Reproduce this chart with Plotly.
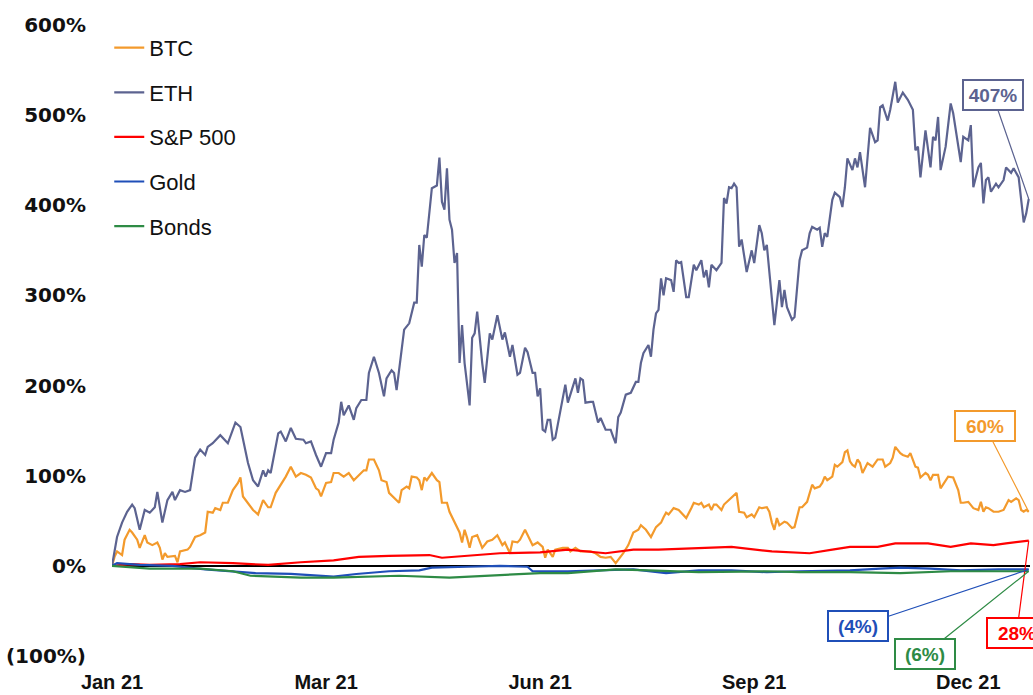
import pandas as pd
import plotly.graph_objects as go

BASE = pd.Timestamp("2021-01-01")

# ---- data: day offset from 1 Jan 2021, cumulative return in % ----
eth_day = [0, 2, 4, 6, 8, 9, 11, 13, 15, 17, 18, 20, 22, 24, 25, 27, 29, 31, 33, 35, 37, 38, 40, 43, 46, 49, 51, 54, 56, 58, 60, 61, 62, 63, 66, 67, 69, 71, 73, 76, 77, 79, 81, 83, 85, 87, 88, 90, 91, 92, 94, 96, 97, 99, 101, 102, 104, 106, 108, 109, 111, 112, 113, 115, 116, 118, 120, 121, 122, 123, 124, 125, 127, 129, 130, 131, 132, 133, 134, 135, 136, 137, 138, 139, 140, 142, 143, 144, 145, 147, 148, 150, 151, 153, 155, 156, 158, 159, 161, 162, 164, 165, 167, 168, 169, 170, 171, 172, 173, 174, 175, 176, 178, 180, 181, 184, 185, 186, 187, 188, 190, 191, 193, 194, 196, 198, 199, 200, 201, 202, 204, 206, 208, 209, 210, 211, 213, 214, 215, 216, 217, 218, 219, 220, 222, 223, 224, 225, 226, 228, 229, 231, 232, 234, 235, 236, 237, 238, 240, 242, 243, 244, 245, 246, 247, 248, 249, 250, 252, 254, 255, 257, 258, 259, 260, 261, 263, 265, 266, 267, 268, 270, 271, 273, 274, 276, 277, 278, 280, 281, 282, 283, 284, 286, 287, 289, 290, 291, 292, 294, 295, 296, 297, 299, 301, 303, 304, 305, 306, 308, 309, 311, 312, 314, 316, 318, 319, 320, 321, 323, 324, 325, 326, 327, 328, 329, 331, 333, 334, 337, 338, 340, 341, 342, 344, 345, 346, 347, 348, 349, 351, 352, 354, 355, 357, 358, 360, 362, 363, 364]
eth_val = [0, 32, 48, 60, 68, 64, 40, 62, 59, 65, 82, 48, 73, 82, 73, 84, 82, 84, 120, 129, 123, 132, 136, 145, 136, 159, 154, 114, 95, 88, 106, 99, 106, 103, 147, 149, 138, 153, 141, 140, 136, 138, 123, 110, 125, 125, 140, 159, 182, 167, 178, 162, 175, 184, 184, 214, 232, 214, 188, 208, 217, 214, 195, 236, 262, 269, 292, 292, 356, 332, 367, 364, 419, 422, 453, 404, 395, 441, 384, 373, 336, 347, 225, 267, 225, 178, 253, 258, 282, 225, 203, 258, 251, 278, 251, 259, 232, 245, 212, 214, 242, 237, 214, 214, 188, 197, 151, 149, 162, 162, 140, 142, 173, 201, 181, 208, 192, 208, 206, 181, 182, 182, 159, 164, 151, 151, 143, 136, 165, 170, 190, 192, 204, 204, 225, 236, 245, 232, 262, 280, 284, 319, 300, 319, 317, 304, 339, 336, 337, 298, 298, 334, 328, 339, 320, 328, 309, 334, 328, 336, 408, 402, 420, 419, 424, 420, 354, 362, 326, 350, 336, 378, 369, 350, 356, 328, 267, 317, 287, 306, 287, 273, 276, 339, 350, 353, 369, 376, 373, 375, 354, 369, 365, 406, 414, 409, 398, 420, 452, 439, 452, 442, 459, 420, 486, 470, 472, 509, 511, 494, 506, 537, 514, 525, 517, 506, 461, 465, 431, 483, 461, 442, 476, 472, 498, 439, 465, 513, 502, 448, 476, 472, 489, 420, 442, 447, 402, 428, 431, 415, 424, 420, 428, 442, 436, 441, 431, 381, 391, 407]

btc_day = [0, 1, 2, 4, 5, 7, 8, 10, 11, 13, 14, 16, 18, 19, 20, 21, 22, 25, 26, 27, 30, 31, 33, 35, 37, 38, 40, 41, 43, 44, 46, 48, 50, 51, 52, 54, 56, 58, 60, 62, 63, 65, 67, 69, 71, 73, 75, 77, 79, 81, 82, 83, 85, 87, 88, 90, 92, 94, 96, 98, 100, 101, 102, 104, 106, 107, 109, 110, 112, 114, 115, 117, 118, 119, 121, 122, 123, 124, 125, 127, 129, 130, 131, 133, 134, 135, 137, 138, 139, 140, 141, 142, 143, 145, 147, 149, 151, 153, 155, 156, 158, 159, 161, 162, 164, 165, 167, 169, 171, 172, 173, 175, 176, 179, 181, 182, 184, 186, 188, 190, 192, 194, 196, 198, 200, 202, 203, 205, 207, 209, 210, 212, 214, 216, 218, 219, 220, 221, 223, 225, 228, 230, 231, 233, 234, 235, 237, 238, 239, 240, 242, 243, 245, 246, 248, 249, 251, 252, 254, 255, 257, 258, 260, 261, 262, 263, 264, 265, 267, 268, 270, 271, 273, 274, 276, 278, 279, 281, 282, 283, 284, 286, 287, 288, 290, 291, 292, 293, 294, 295, 296, 297, 298, 300, 302, 304, 306, 307, 309, 310, 311, 313, 314, 316, 317, 319, 320, 321, 323, 324, 325, 326, 328, 329, 331, 332, 334, 336, 337, 338, 340, 342, 344, 345, 346, 347, 348, 350, 352, 354, 356, 357, 359, 360, 361, 362, 363, 364]
btc_val = [0, 10, 16, 12, 29, 40, 37, 29, 20, 34, 26, 23, 26, 20, 7, 14, 10, 11, 4, 16, 18, 21, 32, 34, 37, 60, 59, 64, 62, 70, 70, 84, 92, 98, 77, 70, 62, 57, 73, 65, 65, 81, 90, 99, 110, 99, 103, 101, 98, 86, 84, 77, 92, 93, 103, 103, 99, 103, 95, 101, 106, 106, 118, 118, 106, 95, 93, 81, 75, 70, 84, 88, 86, 99, 98, 95, 84, 98, 95, 103, 95, 93, 70, 70, 60, 54, 42, 37, 26, 40, 31, 20, 32, 34, 20, 27, 29, 34, 23, 26, 14, 27, 26, 29, 40, 34, 23, 26, 21, 9, 18, 10, 18, 20, 20, 16, 20, 16, 16, 16, 14, 10, 9, 10, 3, 10, 14, 23, 37, 40, 45, 40, 32, 43, 48, 54, 59, 57, 64, 62, 53, 64, 70, 68, 70, 65, 68, 62, 68, 68, 62, 68, 73, 75, 81, 60, 59, 54, 57, 54, 65, 64, 65, 60, 48, 40, 53, 45, 49, 48, 42, 43, 65, 65, 71, 90, 86, 88, 92, 99, 95, 99, 112, 110, 115, 126, 128, 116, 112, 110, 118, 114, 103, 114, 110, 118, 118, 110, 114, 120, 132, 125, 123, 121, 125, 110, 109, 98, 103, 101, 95, 101, 101, 86, 95, 99, 98, 84, 70, 70, 71, 64, 62, 71, 60, 65, 64, 60, 60, 62, 73, 71, 75, 73, 62, 60, 62, 60]

spx_day = [0, 7, 15, 27, 35, 48, 62, 75, 88, 98, 110, 126, 131, 145, 154, 170, 181, 196, 207, 217, 233, 246, 262, 273, 277, 286, 293, 304, 311, 324, 333, 341, 350, 355, 362, 364]
spx_val = [0, 2, 1, 2, 4, 3, 1, 4, 6, 10, 11, 12, 9, 12, 14, 15, 18, 14, 18, 18, 20, 21, 16, 15, 14, 18, 21, 21, 25, 25, 21, 25, 23, 25, 27, 28]

gold_day = [0, 2, 11, 24, 37, 57, 71, 88, 97, 110, 122, 127, 141, 154, 165, 167, 181, 194, 207, 220, 233, 246, 260, 273, 293, 305, 313, 325, 337, 352, 364]
gold_val = [0, 3, 1, 0, -4, -8, -9, -12, -9, -6, -5, -2, -1, 0, -1, -6, -6, -5, -4, -8, -5, -5, -7, -6, -5, -3, -2, -3, -5, -4, -4]

bond_day = [0, 15, 35, 48, 55, 75, 88, 101, 114, 134, 154, 170, 181, 200, 213, 233, 260, 273, 293, 313, 333, 352, 364]
bond_val = [0, -3, -3, -6, -11, -13, -13, -12, -11, -13, -10, -8, -8, -4, -5, -7, -6, -7, -7, -8, -6, -6, -6]

tick_day = [0, 85, 170, 255, 340]
tick_text = ["Jan 21", "Mar 21", "Jun 21", "Sep 21", "Dec 21"]
ytick_vals = [-100, 0, 100, 200, 300, 400, 500, 600]
ytick_text = ["(100%)", "0%", "100%", "200%", "300%", "400%", "500%", "600%"]

series = [
    ("BTC", btc_day, btc_val, "#F39A2C", "60%"),
    ("ETH", eth_day, eth_val, "#5C6390", "407%"),
    ("S&P 500", spx_day, spx_val, "#FF0000", "28%"),
    ("Gold", gold_day, gold_val, "#1F4FB8", "(4%)"),
    ("Bonds", bond_day, bond_val, "#2E8B45", "(6%)"),
]
# label box offsets (pixels from last point)
label_off = {"BTC": (-44, -86), "ETH": (-36, -104), "S&P 500": (-12, 92),
             "Gold": (-171, 57), "Bonds": (-104, 83)}


def to_dates(days):
    return BASE + pd.to_timedelta(days, unit="D")


fig = go.Figure()
for name, d, v, col, _ in series:
    fig.add_trace(go.Scatter(x=to_dates(d), y=v, mode="lines", name=name,
                             legendgroup=name,
                             line=dict(color=col, width=2.2)))

for name, d, v, col, txt in series:
    ax, ay = label_off[name]
    fig.add_annotation(x=to_dates([d[-1]])[0], y=v[-1], text=txt,
                       showarrow=True, arrowhead=0, arrowwidth=1.2,
                       arrowcolor=col, ax=ax, ay=ay,
                       font=dict(family="Liberation Sans, Arial", size=19,
                                 color=col, weight="bold"),
                       bordercolor=col, borderwidth=2, borderpad=1,
                       bgcolor="white", width=56, height=26)

fig.update_layout(
    width=1033, height=695,
    margin=dict(l=112, r=3, t=25, b=39),
    paper_bgcolor="white", plot_bgcolor="white",
    font=dict(family="Liberation Sans, Arial", color="#111111"),
    showlegend=True,
    legend=dict(x=-0.003, y=0.997, xanchor="left", yanchor="top",
                font=dict(size=22, color="#111111"),
                tracegroupgap=13, bgcolor="rgba(0,0,0,0)"),
    xaxis=dict(range=[BASE, BASE + pd.Timedelta(days=364.5)],
               tickvals=to_dates(tick_day), ticktext=tick_text,
               showgrid=False, zeroline=False, showline=False, ticks="",
               ticklabelstandoff=12, automargin=False,
               tickfont=dict(family="Liberation Sans, Arial", size=20,
                             color="#111111", weight="bold")),
    yaxis=dict(range=[-100, 600], tickvals=ytick_vals, ticktext=ytick_text,
               showgrid=False, zeroline=True, zerolinecolor="#000000",
               zerolinewidth=2, showline=False, ticks="",
               ticklabelstandoff=25, automargin=False,
               tickfont=dict(family="DejaVu Sans", size=20,
                             color="#111111", weight="bold")),
)

fig.write_html("out.html", config={"displayModeBar": False},
               post_script="document.body.style.margin='0';"
                           "document.body.style.overflow='hidden';")
